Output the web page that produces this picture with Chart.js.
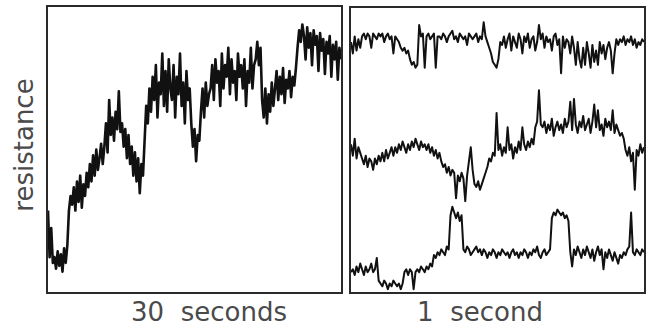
<!DOCTYPE html>
<html>
<head>
<meta charset="utf-8">
<script src="https://cdn.jsdelivr.net/npm/chart.js@4.4.0/dist/chart.umd.min.js"></script>
<style>
  html, body { margin: 0; padding: 0; background: #fff; }
  body { width: 651px; height: 328px; position: relative; overflow: hidden; font-family: "DejaVu Sans", sans-serif; }
  .frame { position: absolute; box-sizing: border-box; border: 2px solid #2a2a2a; }
  .frame canvas { display: block; }
  .lbl { position: absolute; color: #4a4a4a; font-size: 26px; white-space: nowrap; }
</style>
</head>
<body>
<div class="frame" style="left:46px;top:5px;width:297px;height:289px"><canvas id="slow-chart"></canvas></div>
<div class="frame" style="left:349px;top:6px;width:297px;height:288px"><canvas id="fast-chart"></canvas></div>
<div class="lbl" style="left:24px;top:145px;transform:translate(-50%,-50%) rotate(-90deg)">resistance</div>
<div class="lbl" style="left:209px;top:312px;transform:translate(-50%,-50%)">30&nbsp; seconds</div>
<div class="lbl" style="left:480px;top:312px;transform:translate(-50%,-50%)">1&nbsp; second</div>
<script>
// left panel: resistance drift over 30 s (arbitrary units)
const slowTrace = [
  28, 12, 22, 10,
  12, 8, 14, 9, 13, 7, 15, 10, 16,
  28, 33,
  30, 36, 28, 38, 31, 40, 29, 37, 33, 41,
  36, 44, 38, 47, 40, 49, 42, 46, 51, 44,
  50, 58, 48, 66, 54, 60, 52, 62, 56, 69, 55,
  58, 50, 56, 46, 54, 44, 50, 40, 48, 38, 46, 34, 44, 40,
  52, 64, 58, 70,
  62, 74, 66, 78, 60, 72, 68, 82, 64, 76, 62, 80, 70, 66, 78, 60, 74, 68, 82, 64, 72, 58, 76, 66, 70,
  58, 50, 56, 45, 54, 52,
  62, 70, 60, 72, 64, 68,
  70, 78, 66, 80, 72, 76, 64, 82, 70, 78, 74, 84, 68, 80, 72, 76, 66, 82, 74, 78, 70, 80, 64, 76, 72, 84, 70, 78,
  80, 86, 78, 84,
  66, 60, 70, 58, 68, 62, 72, 64,
  70, 76, 66, 74, 68, 77, 65, 73, 70, 76, 67, 74, 71, 77,
  84, 90, 86, 92,
  88, 80, 91, 84, 89, 78, 90, 85, 88, 76, 89, 83, 87, 75, 86, 82, 88, 74, 85, 80, 86, 73, 84, 80
];

// right panel: three 1 s records (offset vertically)
const fastTop = [
  88, 84, 90, 85, 89, 86,
  90, 91, 89, 91, 90, 86, 91, 90, 89, 91, 90, 91, 88, 90, 91, 89, 90, 84, 90, 89,
  88, 86, 85, 86, 84, 85, 82, 80, 81, 79, 80,
  94, 90, 91, 79,
  90, 91, 89, 90, 91, 79, 90, 90, 89, 91, 90, 88, 90, 91, 92, 89, 90, 88, 91, 90, 89, 90, 87, 91, 90, 89, 90, 91, 88, 90, 89, 95, 90, 88, 86,
  84, 81, 80, 79, 82,
  88, 87, 90, 86, 89, 91, 85, 90, 88, 86, 91, 89, 84, 90, 88, 91, 86, 89, 90, 85, 88, 94,
  89, 91, 86, 90, 88, 89, 85, 90, 91, 87, 89, 77, 90, 86, 89, 88, 84, 90, 86, 80, 88, 82, 79, 86, 80, 88, 84, 79, 87, 81, 85, 80, 88, 84, 87, 82, 86, 88, 85, 77, 84, 89, 87,
  89, 88, 90, 87, 89, 88, 90, 87, 89, 86, 88, 87, 89, 88
];
const fastMid = [
  52, 48, 54, 47, 51, 49,
  47, 45, 48, 44, 47, 46, 43, 47, 45, 48, 46, 49, 46, 50, 47, 49, 51, 48,
  51, 49, 52, 50, 53, 51, 49, 52, 50, 53, 51, 54, 52, 50, 53, 51, 52, 50, 52, 49, 51, 48, 50, 47, 49,
  46, 44, 45, 42, 44, 41, 43, 42,
  33, 41, 39, 42, 40, 32, 41,
  46, 51, 43,
  38, 37, 39, 36, 38, 40,
  42, 44, 47, 46, 49, 48, 63,
  50, 52, 48, 51, 49, 58, 50, 52, 47, 51, 49, 53, 50, 58, 52, 50, 53, 51, 54, 52,
  58, 60, 71, 59,
  58, 60, 56, 59, 57, 61, 55, 58, 60, 57, 59, 56, 61, 58, 60, 67, 57, 68, 59, 56, 60, 58, 62, 57, 59, 61, 56, 60, 66, 58, 64, 57, 59, 55, 61, 58, 60, 57, 64, 56, 59, 57, 55, 56, 54,
  50, 48, 51, 46, 49,
  36,
  50, 48, 52, 49, 51
];
const fastLow = [
  7, 8, 6, 9, 7, 10, 8, 6, 9, 7, 8, 10, 7, 8,
  12,
  4, 3, 2, 4, 3, 1, 3, 2, 4, 3, 2, 3, 1, 3,
  7, 8, 6, 8, 7, 1, 7,
  8, 7, 9, 8, 7, 9, 8, 10, 9,
  13, 12, 14, 13, 15, 14, 13, 16, 15,
  27, 30, 28, 26, 28, 25, 27,
  15, 14, 16, 15, 13, 14, 15, 16, 14, 15, 13, 15, 14, 12, 14, 13, 15, 14, 12, 14, 13, 15, 14, 13, 14, 12, 14, 15, 13, 14, 12, 14, 13, 15, 14, 12, 14, 13, 15, 14, 16, 13, 12, 14, 15, 13, 14, 15,
  26, 28, 27, 29, 28, 27, 28, 26, 27, 25,
  14, 9, 15, 13, 16, 14, 12, 15, 13, 16, 14, 12, 15, 11, 14, 16, 13, 15, 8, 14, 12, 15, 13, 11, 14, 12, 10, 13, 12, 14, 13, 15,
  16, 28,
  14, 13, 15, 14, 13, 15, 14
];

function traceSet(values, width) {
  return {
    data: values,
    borderColor: "#111",
    borderWidth: width,
    borderJoinStyle: "round",
    pointRadius: 0,
    tension: 0,
    fill: false,
  };
}

function makePanel(id, series, yMax, width) {
  const n = Math.max(...series.map((s) => s.length));
  return new Chart(document.getElementById(id), {
    type: "line",
    data: {
      labels: Array.from({ length: n }, (_, i) => i),
      datasets: series.map((s) => traceSet(s, width)),
    },
    options: {
      responsive: true,
      maintainAspectRatio: false,
      animation: false,
      layout: { padding: 0 },
      plugins: { legend: { display: false }, tooltip: { enabled: false } },
      scales: {
        x: { display: false, offset: false },
        y: { display: false, min: 0, max: yMax },
      },
    },
  });
}

makePanel("slow-chart", [slowTrace], 98, 2.6);
makePanel("fast-chart", [fastTop, fastMid, fastLow], 100, 2);
</script>
</body>
</html>
